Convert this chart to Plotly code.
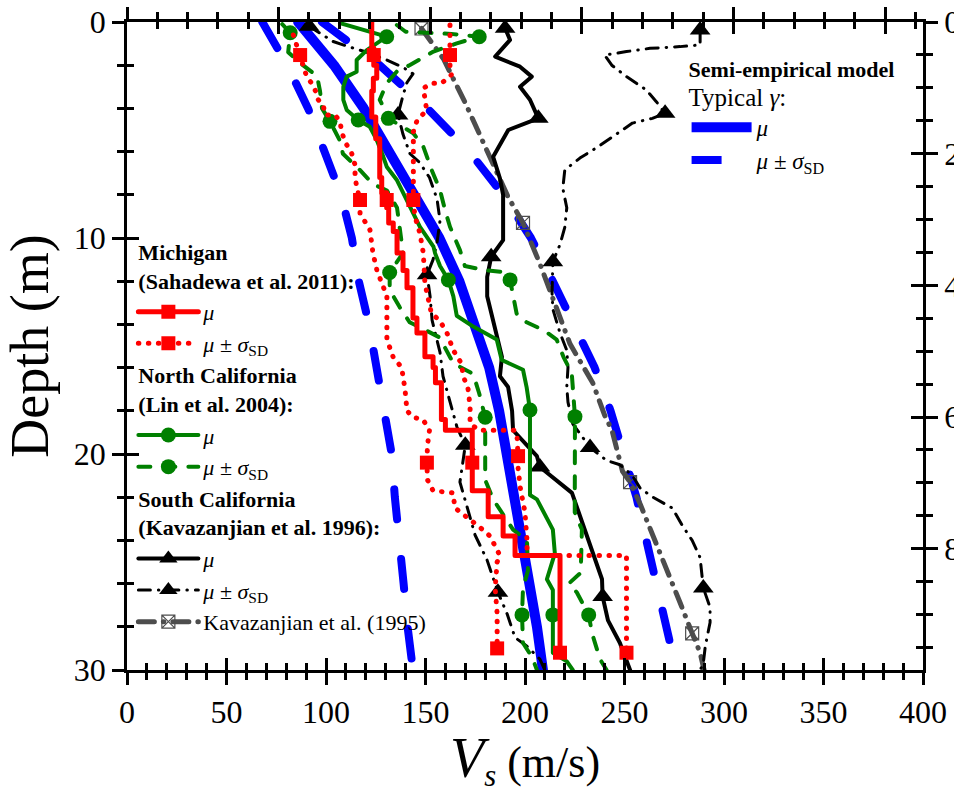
import plotly.graph_objects as go

FT = 0.3048

# ---------------- Semi-empirical model (typical gamma) ----------------
SE_DEPTH = [0, 2, 4, 6, 8, 10, 12, 14, 16, 18, 20, 22, 24, 26, 28, 30]
SE_MU = [86, 104, 119, 132, 145, 157, 167, 175, 182, 187, 191, 195, 199, 203, 206, 209]
SE_LO = [68, 80.5, 91, 99, 107.5, 113, 116.5, 121.6, 125.6, 130, 133, 134.6, 136.3, 139, 141, 143.7]
SE_HI = [98, 127, 151, 172, 189, 203, 214, 225, 235, 243, 250, 256, 261, 266, 270, 276]

# ---------------- Michigan (Sahadewa et al. 2011) ----------------
MI_MU_BOUNDS = [0, 1.2, 2.0, 2.6, 3.2, 4.4, 5.4, 7.2, 7.9, 8.6, 9.3, 9.7, 10.7, 11.5, 12.3,
                13.7, 14.4, 15.5, 16.0, 16.7, 18.4, 18.9, 21.7, 22.9, 23.8, 24.7, 29.2]
MI_MU_VS = [123, 124, 125.5, 123.8, 123, 125, 127, 128, 130.5, 131.5, 133.8, 135.7, 138.7,
            140.7, 143.7, 145.7, 149.7, 153.8, 155, 158, 160, 173.5, 181.5, 189, 195, 217.6]
MI_MU_MK_D = [1.53, 8.24, 20.4, 29.2]
MI_MU_MK_V = [124, 130.5, 173.5, 217.6]

MI_LO_D = [0.6, 1.53, 2.14, 2.53, 2.84, 3.3, 3.6, 3.84, 4.3, 4.3, 4.6, 5.08, 5.54, 6.08, 6.62,
           7.16, 7.62, 8.24, 8.86, 9.63, 10.7, 11.5, 12.7, 14.7, 15.5, 16.0, 17.0, 18.0, 18.3,
           18.4, 18.9, 19.6, 20.4, 21.2, 21.7, 21.8, 22.5, 22.9, 23.4, 23.8, 24.7, 25.0, 26.2,
           27.4, 29.0]
MI_LO_V = [83.6, 87, 89.4, 90.3, 92.8, 95.3, 96.1, 98.6, 99.5, 104.5, 107, 107.9, 109.5, 112.9,
           114.6, 114.6, 115.4, 117.1, 117.1, 122.1, 123.6, 125.6, 130.6, 130.6, 133.7, 138,
           139.7, 140.7, 143.7, 148.7, 152, 151, 150.7, 151, 153.8, 163.8, 164.8, 170.8, 177.4,
           182.4, 187.4, 186, 185, 186, 186]
MI_LO_MK_D = [1.53, 8.24, 20.4, 29.0]
MI_LO_MK_V = [87, 117.1, 150.7, 186]

MI_HI_D = [0.14, 1.53, 2.14, 2.45, 2.84, 2.84, 3.07, 3.53, 4.07, 4.6, 5.08, 6.0, 8.24, 9.0,
           9.78, 10.7, 12.1, 13.5, 13.8, 14.4, 15.2, 15.8, 16.4, 17.0, 17.8, 18.6, 18.9, 18.9,
           19.2, 20.1, 20.6, 21.5, 22.0, 22.7, 24.0, 24.7, 24.7, 29.2]
MI_HI_V = [162.3, 162.3, 162.3, 163, 158, 153, 148.9, 149.7, 150.6, 145.6, 143.9, 143.9, 143.9,
           144.7, 147.2, 148.9, 149.7, 153, 157, 160.8, 164, 168, 169, 171.4, 172.4, 172.4, 177,
           195, 196, 196.5, 196.5, 197.5, 198.5, 200, 201, 201, 251, 251]
MI_HI_MK_D = [1.53, 8.24, 20.1, 29.2]
MI_HI_MK_V = [162.3, 143.9, 196.5, 251]

# ---------------- North California (Lin et al. 2004) ----------------
NC_MU_D = [0.05, 0.45, 0.68, 1.3, 1.76, 2.3, 2.53, 3.0, 3.6, 4.07, 4.54, 4.85, 5.46, 6.24, 6.7,
           7.3, 7.93, 8.55, 9.48, 10.4, 10.7, 11.3, 11.94, 12.7, 13.6, 14.1, 14.7, 15.65, 16.1,
           16.9, 17.96, 21.9, 22.1, 23.5, 24.6, 25.8, 26.3, 27.45, 29.2, 29.6, 30]
NC_MU_V = [107, 122, 130.5, 120.5, 115.4, 115.4, 110.4, 108.7, 108.7, 110.4, 116.2, 122, 125.5,
           128.8, 130.5, 135.5, 138.8, 142.2, 147.2, 154, 154.8, 157.3, 161.5, 164, 165.7, 174,
           185.8, 188.3, 199, 200.8, 202.5, 202.5, 206, 214, 215, 211, 214, 214, 214, 221, 224]
NC_MU_MK_D = [0.68, 4.54, 11.94, 17.96, 27.45]
NC_MU_MK_V = [130.5, 116.2, 161.5, 202.5, 214]

NC_LO_D = [0.1, 0.5, 1.4, 1.9, 2.5, 3.2, 4.0, 4.6, 5.5, 6.1, 6.85, 7.5, 7.8, 8.6, 9.5, 10.1,
           10.7, 11.6, 12.4, 13.2, 13.9, 14.3, 14.6, 15.8, 16.3, 17.2, 18.3, 20.0, 21.2, 22.1,
           23.5, 24.0, 25.4, 26.2, 27.45, 28.75, 29.4, 30]
NC_LO_V = [78, 82, 81, 87, 95.5, 97, 98, 102, 107, 108.5, 117, 123.6, 130.6, 135.7, 137, 138,
           138.7, 132, 132, 137, 142, 150.7, 157, 164, 174, 177, 180, 180, 180, 184, 194, 201,
           201.5, 199, 198.5, 199, 203.5, 206]
NC_LO_MK_D = [0.5, 4.6, 11.6, 18.3, 27.45]
NC_LO_MK_V = [82, 102, 132, 180, 198.5]

NC_HI_D = [0.14, 0.45, 0.55, 0.68, 0.99, 1.37, 1.99, 2.3, 2.84, 3.6, 4.23, 4.46, 5.15, 5.77,
           6.85, 7.78, 8.7, 9.48, 10.56, 11.3, 11.5, 11.6, 11.94, 12.7, 13.5, 13.9, 14.26, 14.7,
           15.5, 16.26, 17.35, 18.27, 22.7, 23.5, 25.5, 26.0, 26.4, 27.45, 28.3, 29.5, 30]
NC_HI_V = [135.6, 140, 163, 177, 165.7, 154, 142.2, 135.5, 130.5, 127, 130.5, 131.3, 143.9,
           148.9, 153.1, 157.3, 159.8, 162.3, 167.3, 169.8, 180.7, 191.6, 192.5, 194.1, 195.8,
           200.8, 209.2, 215.9, 219.3, 223.5, 224.3, 225.1, 225, 228.6, 228, 222, 226, 232,
           233.7, 237.7, 241]
NC_HI_MK_D = [0.68, 4.46, 11.94, 18.27, 27.45]
NC_HI_MK_V = [177, 131.3, 192.5, 225.1, 232]

# ---------------- South California (Kavazanjian et al. 1996) ----------------
SC_MU_D = [0.29, 0.83, 1.6, 1.84, 2.07, 2.53, 3.0, 3.6, 4.23, 4.46, 5.0, 5.54, 6.24, 7.24, 8.0,
           9.4, 10.1, 10.87, 11.8, 12.7, 13.5, 14.6, 15.5, 16.4, 16.9, 18.0, 18.9, 20.1, 20.6,
           21.8, 23.1, 24.6, 25.8, 26.6, 27.7, 28.75, 30]
SC_MU_V = [190, 192.5, 185, 190.8, 197.5, 203.4, 197.5, 202.5, 205.9, 206.7, 191.6, 188.3, 184,
           187.4, 189, 189, 189, 183, 181, 181, 183, 186, 188.4, 187.4, 191.5, 193.5, 194, 206,
           207.5, 223.6, 228.6, 234, 238.7, 239, 241.7, 247.7, 252.8]
SC_MU_MK_D = [0.29, 4.46, 10.87, 20.6, 26.6]
SC_MU_MK_V = [190, 206.7, 183, 207.5, 239]

SC_LO_D = [0.2, 0.9, 1.16, 1.4, 1.76, 2.1, 2.4, 2.8, 3.4, 4.3, 5.2, 6.1, 6.5, 7.2, 8.2, 9.2,
           10.2, 11.0, 11.7, 12.7, 13.8, 15.3, 16.4, 17.6, 18.75, 19.6, 20.6, 21.3, 22.45, 23.75,
           24.9, 26.0, 26.4, 27.4, 28.5, 28.9, 29.5, 30]
SC_LO_V = [91.5, 103.5, 112, 120.6, 130.6, 138.7, 143.7, 140.7, 138.7, 136.2, 138.7, 142.2, 147,
           152, 155.8, 157.3, 155.8, 153.8, 150.8, 152.3, 153.3, 157.3, 158.8, 162.3, 165.8, 170,
           168.3, 167.3, 170.9, 174.9, 180.9, 184.9, 186.4, 191, 195, 201, 207.5, 210]
SC_LO_MK_D = [0.2, 4.3, 11.7, 19.6, 26.4]
SC_LO_MK_V = [91.5, 136.2, 150.8, 170, 186.4]

SC_HI_D = [0.37, 1.06, 1.14, 1.22, 1.37, 1.53, 2.0, 2.53, 3.15, 3.69, 4.23, 4.46, 4.68, 5.08,
           5.77, 6.3, 6.85, 7.7, 8.6, 9.5, 10.3, 11.1, 12.55, 13.3, 14.4, 15.2, 16.0, 16.9, 17.6,
           18.6, 19.7, 20.3, 20.5, 21.0, 21.6, 22.0, 22.5, 23.3, 24.0, 24.8, 26.2, 27.1, 27.8,
           28.9, 29.7, 30]
SC_HI_V = [288, 288, 277.9, 262.8, 251, 240, 243.6, 251, 261, 266, 270.4, 264, 254, 247.7, 236.8,
           227.6, 220, 219, 221, 220, 217.6, 214, 213.6, 214, 217.6, 221, 221.6, 221, 221.6, 224,
           232.7, 241, 247.7, 254, 258, 264.3, 274, 279, 284, 288, 289.6, 293, 293, 290.6,
           289.6, 288]
SC_HI_MK_D = [0.37, 4.23, 11.1, 19.7, 26.2]
SC_HI_MK_V = [288, 270.4, 214, 232.7, 289.6]

# ---------------- Kavazanjian et al. (1995) ----------------
K95_D = [0.3, 1.7, 3.75, 5.2, 8.1, 9.3, 11.2, 14.9, 15.5, 16.7, 18.2, 18.9, 20.8, 21.3, 22.3,
         23.9, 25.2, 26.9, 28.3, 29.2, 30]
K95_V = [148, 159, 170, 177, 191.5, 199, 207.5, 222.6, 226.6, 234, 240, 243.7, 249, 252.8, 257.8,
         265, 271, 278, 284, 288, 290]
K95_MK_D = [0.3, 9.3, 21.3, 28.3]
K95_MK_V = [148, 199, 252.8, 284]

FONT = "Liberation Serif"
RED, GREEN, BLUE, GRAY = "#ff0000", "#008000", "#0000ff", "#4d4d4d"


def steps(bounds, values):
    """Turn layer boundaries and layer velocities into a stepped profile."""
    xs, ys = [], []
    for i, v in enumerate(values):
        xs += [v, v]
        ys += [bounds[i], bounds[i + 1]]
    return xs, ys


fig = go.Figure()


def line(x, y, color, width, dash):
    fig.add_trace(go.Scatter(x=x, y=y, mode="lines", showlegend=False, hoverinfo="skip",
                             line=dict(color=color, width=width, dash=dash)))


def marks(x, y, color, symbol, size, lw=0):
    fig.add_trace(go.Scatter(x=x, y=y, mode="markers", showlegend=False, hoverinfo="skip",
                             marker=dict(color=color, symbol=symbol, size=size,
                                         line=dict(color=color, width=lw))))


def key(name, color, width, dash, symbol, size, rank, legend_id, group=None, gtitle=None, lw=0):
    kw = {}
    if group:
        kw["legendgroup"] = group
    if gtitle:
        kw["legendgrouptitle"] = dict(text=gtitle, font=dict(family=FONT, size=22, color="black"))
    mode = "lines+markers" if symbol else "lines"
    fig.add_trace(go.Scatter(x=[None], y=[None], mode=mode, name=name, legend=legend_id,
                             legendrank=rank, hoverinfo="skip",
                             line=dict(color=color, width=width, dash=dash),
                             marker=dict(color=color, symbol=symbol or "circle", size=size or 1,
                                         line=dict(color=color, width=lw)), **kw))


BLUE_DASH = "30px,40px"
RED_DOT = "0.5px,9.5px"
GREEN_DASH = "12px,13px"
BLACK_DD = "12px,8px,0.5px,8px"
GRAY_DD = "16px,9px,0.5px,9px"

# semi-empirical model
line(SE_LO, SE_DEPTH, BLUE, 8, BLUE_DASH)
line(SE_HI, SE_DEPTH, BLUE, 8, BLUE_DASH)
line(SE_MU, SE_DEPTH, BLUE, 10, "solid")

# Kavazanjian et al. (1995)
line(K95_V, K95_D, GRAY, 5, GRAY_DD)
marks(K95_MK_V, K95_MK_D, GRAY, "square-x-open", 13, 1.2)

# South California
line(SC_LO_V, SC_LO_D, "black", 3, BLACK_DD)
line(SC_HI_V, SC_HI_D, "black", 3, BLACK_DD)
line(SC_MU_V, SC_MU_D, "black", 4, "solid")
for mv, md in [(SC_LO_MK_V, SC_LO_MK_D), (SC_HI_MK_V, SC_HI_MK_D), (SC_MU_MK_V, SC_MU_MK_D)]:
    marks(mv, md, "black", "triangle-up", 18)

# North California
line(NC_LO_V, NC_LO_D, GREEN, 4, GREEN_DASH)
line(NC_HI_V, NC_HI_D, GREEN, 4, GREEN_DASH)
line(NC_MU_V, NC_MU_D, GREEN, 4, "solid")
for mv, md in [(NC_LO_MK_V, NC_LO_MK_D), (NC_HI_MK_V, NC_HI_MK_D), (NC_MU_MK_V, NC_MU_MK_D)]:
    marks(mv, md, GREEN, "circle", 15)

# Michigan
line(MI_LO_V, MI_LO_D, RED, 5, RED_DOT)
line(MI_HI_V, MI_HI_D, RED, 5, RED_DOT)
mx, my = steps(MI_MU_BOUNDS, MI_MU_VS)
line(mx, my, RED, 5, "solid")
for mv, md in [(MI_LO_MK_V, MI_LO_MK_D), (MI_HI_MK_V, MI_HI_MK_D), (MI_MU_MK_V, MI_MU_MK_D)]:
    marks(mv, md, RED, "square", 14)

MU = "<i>μ</i>"
MUSD = "<i>μ</i> ± <i>σ</i><sub>SD</sub>"

# legend entries
key(MU, RED, 5, "solid", "square", 14, 1, "legend", "mi",
    "<b>Michigan<br>(Sahadewa et al. 2011):</b>")
key(MUSD, RED, 5, RED_DOT, "square", 14, 2, "legend", "mi")
key(MU, GREEN, 4, "solid", "circle", 15, 3, "legend", "nc",
    "<b>North California<br>(Lin et al. 2004):</b>")
key(MUSD, GREEN, 4, GREEN_DASH, "circle", 15, 4, "legend", "nc")
key(MU, "black", 4, "solid", "triangle-up", 18, 5, "legend", "sc",
    "<b>South California<br>(Kavazanjian et al. 1996):</b>")
key(MUSD, "black", 3, BLACK_DD, "triangle-up", 18, 6, "legend", "sc")
key("Kavazanjian et al. (1995)", GRAY, 5, GRAY_DD, "square-x-open", 13, 7, "legend", "k95",
    lw=1.2)
key(MU, BLUE, 10, "solid", None, None, 8, "legend2")
key(MUSD, BLUE, 8, BLUE_DASH, None, None, 9, "legend2")

# empty traces so the overlaid unit axes (ft, ft/s) are drawn
for xa, ya in [("x2", "y"), ("x3", "y"), ("x4", "y"), ("x", "y2"), ("x", "y3"), ("x", "y4")]:
    fig.add_trace(go.Scatter(x=[None], y=[None], xaxis=xa, yaxis=ya, showlegend=False,
                             hoverinfo="skip"))

TW = 2.5
MAJ, MIN = 12, 7


def axis(rng, dtick, mdtick, ticks, **kw):
    d = dict(range=rng, dtick=dtick, tick0=0, ticks=ticks, ticklen=MAJ, tickwidth=TW,
             tickcolor="black", showgrid=False, zeroline=False, fixedrange=True,
             automargin=False,
             minor=dict(dtick=mdtick, tick0=0, ticks=ticks, ticklen=MIN, tickwidth=TW,
                        tickcolor="black", showgrid=False),
             tickfont=dict(family=FONT, size=32, color="black"))
    d.update(kw)
    return d


XR = [0, 400]
YR = [30, 0]
fig.update_layout(
    width=954, height=793,
    margin=dict(l=127, r=31, t=22, b=123),
    paper_bgcolor="white", plot_bgcolor="white",
    font=dict(family=FONT, color="black"),
    xaxis=axis(XR, 50, 10, "outside", showline=True, linecolor="black", linewidth=TW,
               title=dict(text='<span style="font-size:56px"><i>V</i></span>'
                               '<sub><i>s</i></sub> (m/s)',
                          font=dict(family=FONT, size=44), standoff=14)),
    xaxis3=axis(XR, 50, 10, "inside", overlaying="x", anchor="y", showticklabels=False,
                showline=False),
    xaxis2=axis([0, 400 / FT], 250, 50, "outside", overlaying="x", anchor="y", side="top",
                showticklabels=False, showline=True, linecolor="black", linewidth=TW),
    xaxis4=axis([0, 400 / FT], 250, 50, "inside", overlaying="x", anchor="y", side="top",
                showticklabels=False, showline=False),
    yaxis=axis(YR, 10, 2, "outside", showline=True, linecolor="black", linewidth=TW,
               title=dict(text="Depth (m)", font=dict(family=FONT, size=54), standoff=22)),
    yaxis3=axis(YR, 10, 2, "inside", overlaying="y", anchor="x", showticklabels=False,
                showline=False),
    yaxis2=axis([30 / FT, 0], 20, 5, "outside", overlaying="y", anchor="x", side="right",
                showticklabels=True, showline=True, linecolor="black", linewidth=TW),
    yaxis4=axis([30 / FT, 0], 20, 5, "inside", overlaying="y", anchor="x", side="right",
                showticklabels=False, showline=False),
    legend=dict(x=0.008, y=0.678, xanchor="left", yanchor="top", bgcolor="rgba(0,0,0,0)",
                font=dict(family=FONT, size=22, color="black"), traceorder="grouped",
                tracegroupgap=0, itemwidth=60),
    legend2=dict(x=0.703, y=0.959, xanchor="left", yanchor="top", bgcolor="rgba(0,0,0,0)",
                 font=dict(family=FONT, size=23, color="black"), itemwidth=60,
                 title=dict(text='<b>Semi-empirical model</b><br>'
                                 '<span style="font-size:25px">Typical <i>γ</i>:</span>',
                            font=dict(family=FONT, size=22, color="black"), side="top")),
    showlegend=True,
)

ROUND = ("document.querySelectorAll('.scatterlayer .js-line, .legend .js-line')"
         ".forEach(function(p){p.style.strokeLinecap='round';p.style.strokeLinejoin='round';});")
fig.write_html("out.html", post_script=ROUND)
